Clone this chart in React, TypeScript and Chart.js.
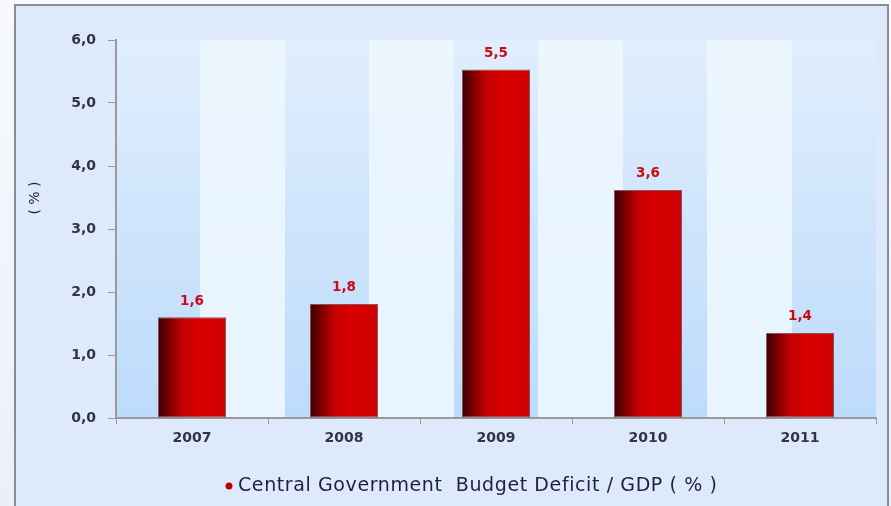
import React, { useEffect, useRef } from "react";
import { Chart, registerables } from "chart.js";

Chart.register(...registerables);

const years = ["2007", "2008", "2009", "2010", "2011"];
const deficit = [1.6, 1.81, 5.53, 3.62, 1.35];
const seriesLabel = "Central Government  Budget Deficit / GDP ( % )";
const yTitle = "( % )";
const yMin = 0;
const yMax = 6;
const yStep = 1;

const BAR_PCT = 0.9;
const CAT_PCT = 0.497;

const fmt = (v: number) => v.toFixed(1).replace(".", ",");

const backgroundPlugin = {
  id: "bgFrame",
  beforeDraw(chart: any) {
    const { ctx, width, height, chartArea } = chart;
    ctx.save();
    const pg = ctx.createLinearGradient(0, 0, 0, height);
    pg.addColorStop(0, "#f7f9fe");
    pg.addColorStop(1, "#eaf0fb");
    ctx.fillStyle = pg;
    ctx.fillRect(0, 0, width, height);
    ctx.fillStyle = "#deeafb";
    ctx.fillRect(14, 4, 875, height);
    ctx.strokeStyle = "#8c8c8c";
    ctx.lineWidth = 2;
    ctx.beginPath();
    ctx.moveTo(15, height + 2);
    ctx.lineTo(15, 5);
    ctx.lineTo(888, 5);
    ctx.lineTo(888, height + 2);
    ctx.stroke();
    if (chartArea) {
      const { left, right, top, bottom } = chartArea;
      const n = 9;
      const w = (right - left) / n;
      for (let i = 0; i < n; i++) {
        const x0 = left + i * w;
        const g = ctx.createLinearGradient(0, top, 0, bottom);
        if (i % 2 === 0) {
          g.addColorStop(0, "#e0eefd");
          g.addColorStop(1, "#bddbfb");
        } else {
          g.addColorStop(0, "#ebf6ff");
          g.addColorStop(1, "#e8f4ff");
        }
        ctx.fillStyle = g;
        ctx.fillRect(Math.round(x0), top, Math.round(x0 + w) - Math.round(x0), bottom - top);
      }
    }
    ctx.restore();
  },
};

const labelPlugin = {
  id: "valueLabels",
  afterDatasetsDraw(chart: any) {
    const { ctx } = chart;
    const meta = chart.getDatasetMeta(0);
    ctx.save();
    ctx.font = "bold 13.5px 'DejaVu Sans'";
    ctx.fillStyle = "#cc0a12";
    ctx.textAlign = "center";
    ctx.textBaseline = "middle";
    meta.data.forEach((el: any, i: number) => {
      ctx.fillText(fmt(chart.data.datasets[0].data[i]), el.x, el.y - 16);
    });
    ctx.restore();
  },
};

const textPlugin = {
  id: "titleAndLegend",
  afterDraw(chart: any) {
    const { ctx } = chart;
    ctx.save();
    ctx.translate(35, 198);
    ctx.rotate(-Math.PI / 2);
    ctx.font = "14px 'DejaVu Sans'";
    ctx.fillStyle = "#222233";
    ctx.textAlign = "center";
    ctx.textBaseline = "middle";
    ctx.fillText(yTitle, 0, 0);
    ctx.restore();

    ctx.save();
    ctx.fillStyle = "#c00000";
    ctx.beginPath();
    ctx.arc(229, 486, 3.5, 0, Math.PI * 2);
    ctx.fill();
    ctx.font = "19px 'DejaVu Sans'";
    const target = 479;
    const w = ctx.measureText(seriesLabel).width;
    const ls = (target - w) / (seriesLabel.length - 1);
    try {
      (ctx as any).letterSpacing = ls.toFixed(2) + "px";
    } catch (e) {}
    ctx.fillStyle = "#1e2040";
    ctx.textAlign = "left";
    ctx.textBaseline = "alphabetic";
    ctx.fillText(seriesLabel, 238, 491);
    ctx.restore();
  },
};

export default function App() {
  const ref = useRef<HTMLCanvasElement>(null);
  useEffect(() => {
    if (!ref.current) return;
    const chart = new Chart(ref.current, {
      type: "bar",
      data: {
        labels: years,
        datasets: [
          {
            label: seriesLabel,
            data: deficit,
            backgroundColor: (c: any) => {
              const ch = c.chart;
              const xs = ch.scales && ch.scales.x;
              if (!xs || !ch.chartArea) return "#cc0000";
              const cx = xs.getPixelForValue(c.dataIndex);
              const cw = (xs.width / years.length) * BAR_PCT * CAT_PCT;
              const g = ch.ctx.createLinearGradient(cx - cw / 2, 0, cx + cw / 2, 0);
              g.addColorStop(0, "#3a0000");
              g.addColorStop(0.12, "#6a0000");
              g.addColorStop(0.35, "#c20000");
              g.addColorStop(0.6, "#d90000");
              g.addColorStop(1, "#cc0000");
              return g;
            },
            borderColor: "rgba(110,20,20,0.7)",
            borderWidth: 1,
            borderSkipped: false,
            barPercentage: BAR_PCT,
            categoryPercentage: CAT_PCT,
          },
        ],
      },
      options: {
        responsive: false,
        animation: false,
        layout: { padding: { left: 0, top: 40, right: 15, bottom: 38 } },
        plugins: {
          tooltip: { enabled: false },
          legend: { display: false },
        },
        scales: {
          x: {
            offset: true,
            afterFit: (s: any) => {
              s.height = 50;
            },
            border: { display: true, color: "#9a9a9a", width: 2 },
            grid: {
              offset: true,
              drawOnChartArea: false,
              drawTicks: true,
              tickLength: 6,
              color: "#9a9a9a",
              lineWidth: 1,
            },
            ticks: {
              color: "#33334a",
              padding: 6,
              font: { family: "'DejaVu Sans'", size: 14, weight: "bold" },
            },
          },
          y: {
            min: yMin,
            max: yMax,
            afterFit: (s: any) => {
              s.width = 116;
            },
            border: { display: true, color: "#9a9a9a", width: 2 },
            grid: {
              drawOnChartArea: false,
              drawTicks: true,
              tickLength: 8,
              color: "#9a9a9a",
              lineWidth: 1,
            },
            ticks: {
              stepSize: yStep,
              color: "#33334a",
              padding: 12,
              font: { family: "'DejaVu Sans'", size: 14, weight: "bold" },
              callback: (v: any) => fmt(Number(v)),
            },
            title: { display: false },
          },
        },
      },
      plugins: [backgroundPlugin, labelPlugin, textPlugin],
    });
    return () => chart.destroy();
  }, []);
  return (
    <div style={{ position: "absolute", left: 0, top: 0, width: 891, height: 506 }}>
      <canvas ref={ref} width={891} height={506} style={{ display: "block" }} />
    </div>
  );
}
